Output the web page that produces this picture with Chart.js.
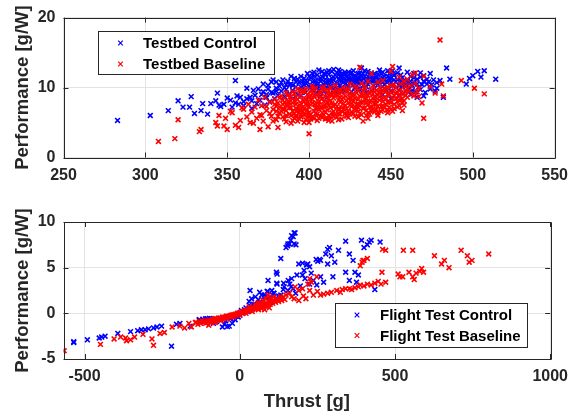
<!DOCTYPE html>
<html>
<head>
<meta charset="utf-8">
<script src="https://cdn.jsdelivr.net/npm/chart.js@4.4.1/dist/chart.umd.min.js"></script>
<style>
    body { margin: 0; background: #fff; }
    .plot { position: relative; width: 576px; }
</style>
</head>
<body>
<div class="plot"><canvas id="testbed_chart" width="576" height="200"></canvas></div>
<div class="plot"><canvas id="flight_chart" width="576" height="217"></canvas></div>
<script>
// ---- data: [thrust, performance] ----
var testbedLabels = ['Testbed Control', 'Testbed Baseline'];
var flightLabels = ['Flight Test Control', 'Flight Test Baseline'];

var testbedXTicks = [250, 300, 350, 400, 450, 500, 550];
var testbedYTicks = [0, 10, 20];
var flightXTicks = [-500, 0, 500, 1000];
var flightYTicks = [-5, 0, 5, 10];

var testbedControl = [
    [283,5.3],[303,6.0],[314,6.7],[320,8.1],[323,7.2],[327,7.2],[328,8.7],[330,6.3],[334,6.7],[335,7.7],
    [338,6.2],[340,7.7],[343,8.1],[344,9.2],[345,7.5],[346,7.3],[348,7.6],[350,8.5],[352,8.2],[353,7.2],
    [355,11.0],[355,7.8],[356,8.8],[358,8.6],[360,8.0],[360,7.4],[362,8.4],[364,8.6],[365,7.0],[367,8.9],
    [368,7.7],[370,8.2],[371,9.0],[372,10.5],[373,7.5],[374,8.6],[375,9.8],[376,8.0],[377,10.8],[378,11.1],
    [378,9.2],[379,8.4],[380,9.9],[381,8.9],[382,10.2],[383,9.5],[384,11.1],[385,8.7],[386,9.7],[387,10.9],
    [388,9.1],[389,10.5],[390,8.4],[390,9.6],[391,11.3],[392,10.1],[393,9.0],[394,10.7],[395,11.6],[395,8.8],
    [396,9.8],[397,10.4],[398,11.0],[398,9.3],[399,12.0],[400,10.2],[400,8.6],[401,11.4],[402,9.7],[402,10.8],
    [403,12.2],[404,9.1],[404,11.0],[405,10.4],[405,11.8],[406,9.6],[406,12.5],[407,10.9],[407,8.8],[408,11.5],
    [408,10.1],[409,9.4],[409,12.0],[410,10.7],[410,11.2],[411,9.9],[411,8.6],[412,11.9],[412,10.4],[413,11.0],
    [413,9.2],[414,12.3],[414,10.8],[415,11.5],[415,10.0],[416,9.5],[416,11.8],[417,10.6],[417,12.1],[418,11.2],
    [418,9.8],[419,10.3],[419,11.6],[420,12.0],[420,10.9],[421,9.6],[421,11.3],[422,10.5],[422,11.9],[423,11.0],
    [423,9.9],[424,12.2],[424,10.2],[425,11.5],[425,10.7],[426,9.4],[426,11.1],[427,12.4],[427,10.4],[428,11.7],
    [428,10.0],[429,11.2],[430,12.0],[430,10.6],[431,9.7],[431,11.4],[432,10.9],[432,12.8],[433,10.3],[434,11.6],
    [434,9.9],[435,11.0],[436,12.3],[436,10.5],[437,11.8],[438,9.6],[438,11.2],[439,10.8],[440,12.0],[440,9.9],
    [441,11.4],[442,10.4],[443,12.5],[443,9.3],[444,11.0],[445,12.2],[445,10.1],[446,11.6],[447,9.7],[448,10.8],
    [449,12.0],[450,11.3],[450,9.5],[451,10.3],[452,11.8],[453,10.0],[454,11.1],[455,12.8],[455,9.6],[456,10.7],
    [457,11.4],[458,9.2],[459,10.4],[460,11.0],[461,9.8],[462,11.6],[463,10.3],[464,12.0],[465,9.4],[466,11.2],
    [467,10.1],[468,9.7],[470,10.9],[471,9.3],[472,10.5],[474,12.0],[474,9.8],[475,10.4],[476,11.1],[477,9.5],
    [478,10.7],[480,11.0],[482,8.6],[484,12.8],[486,11.2],[496,10.5],[498,11.3],[500,11.7],[503,12.3],[505,11.5],
    [507,12.4],[514,11.2],
    [398,10.6],[401,10.0],[403,11.6],[405,9.2],[407,11.3],[409,10.5],[411,12.2],[413,10.2],[415,11.1],[417,9.8],
    [419,12.3],[421,10.8],[423,11.5],[425,12.0],[427,11.0],[429,10.3],[431,12.1],[433,11.3],[435,10.1],[437,11.2],
    [439,11.7],[441,10.6],[443,11.2],[445,11.4],[447,10.9],[449,11.2],[451,11.9],[453,10.8],[390,10.3],[393,11.2],
    [396,10.9],[385,10.0],[388,10.4],[380,10.8],[375,10.3],[372,9.4],[369,9.8],[366,9.6],[362,9.9],[412,11.0],
    [418,11.8],[424,11.3],[430,11.4],[436,11.6],[442,11.9],[448,11.6],[456,11.0],[460,10.3],[464,10.8],[468,11.5],
    [472,11.2],[478,9.9],[462,9.0],[466,8.6],[455,8.9],[450,8.4],[445,9.0],[440,8.7],[470,8.8],
    [395,10.1],[397,11.3],[399,10.8],[400,11.6],[402,12.0],[404,10.5],[406,11.1],[408,12.3],[410,11.8],[412,12.4],
    [414,11.3],[416,10.4],[418,12.5],[420,11.6],[422,12.2],[424,10.9],[426,12.1],[428,11.0],[430,10.9],[432,11.7],
    [434,12.4],[436,11.1],[438,12.1],[440,11.2],[442,11.1],[444,12.0],[446,10.4],[448,12.4],[450,10.7],[452,11.1],
    [454,12.1],[456,11.8],[458,10.8],[460,12.2],[462,10.9],[464,11.4],[466,10.5],[468,12.1],[470,11.7],[473,10.8],
    [392,10.8],[389,11.6],[386,10.4],[383,10.7],[380,9.5],[377,9.3],[374,9.0],[403,10.6],[407,10.2],[411,10.6],
    [415,12.6],[419,11.1],[427,11.6],[433,12.0],[439,11.0],[445,10.8],[451,12.4],[457,10.1],[463,9.6],[469,10.4],
    [415,9.2],[425,9.1],[435,9.3],[445,9.6],[455,10.3],[405,9.9],[420,9.5],[430,9.8],[365,8.1],[357,7.6]
];

var testbedBaseline = [
    [308,2.3],[318,2.7],[320,5.4],[333,3.7],[334,4.0],[343,5.0],[344,4.5],[345,6.0],[348,4.5],[349,5.6],
    [350,4.0],[352,6.6],[353,6.4],[355,4.6],[357,4.3],[358,5.3],[359,7.1],[360,6.9],[362,5.8],[363,7.6],
    [364,5.0],[365,6.5],[366,4.9],[367,7.2],[368,5.6],[369,8.2],[370,6.1],[370,4.0],[371,7.4],[372,5.2],
    [373,8.6],[374,6.7],[375,4.4],[376,7.9],[377,5.9],[378,6.9],[379,8.3],[380,5.4],[380,7.3],[381,4.3],
    [382,6.4],[383,8.8],[384,5.8],[384,7.6],[385,6.9],[386,9.3],[386,5.1],[387,8.0],[388,6.2],[388,7.1],
    [389,4.9],[389,8.7],[390,6.6],[390,7.8],[391,5.6],[391,9.1],[392,7.0],[392,6.0],[393,8.3],[393,5.2],
    [394,7.5],[394,6.4],[395,8.9],[395,5.8],[396,7.2],[396,9.5],[397,6.1],[397,8.0],[398,7.6],[398,5.4],
    [399,6.8],[399,9.0],[400,3.4],[400,7.3],[400,8.5],[400,5.0],[401,6.2],[401,9.6],[402,7.8],[402,5.7],
    [403,8.8],[403,6.6],[404,7.1],[404,9.9],[405,5.3],[405,8.2],[406,6.9],[406,7.6],[407,9.3],[407,5.9],
    [408,8.4],[408,6.4],[409,7.3],[409,10.1],[410,5.5],[410,8.7],[411,6.8],[411,7.9],[412,9.5],[412,6.0],
    [413,8.1],[413,7.1],[414,5.2],[414,9.0],[415,6.6],[415,8.5],[416,7.6],[416,10.3],[417,5.8],[417,8.9],
    [418,7.0],[418,6.3],[419,9.7],[419,7.9],[420,5.5],[420,8.3],[421,6.9],[421,10.0],[422,7.4],[422,8.8],
    [423,6.1],[423,9.4],[424,7.8],[424,5.7],[425,8.6],[425,10.5],[426,6.5],[426,7.3],[427,9.1],[427,8.0],
    [428,5.9],[428,10.2],[429,7.6],[429,6.8],[430,9.6],[430,8.3],[431,6.3],[431,12.9],[432,7.9],[432,10.6],
    [433,5.2],[433,8.9],[434,7.1],[434,9.8],[435,6.7],[435,8.4],[436,10.9],[436,7.5],[437,6.2],[437,9.2],
    [438,8.1],[438,12.0],[439,7.0],[439,10.3],[440,6.5],[440,8.7],[441,9.6],[441,7.7],[442,6.0],[442,10.8],
    [443,8.2],[444,7.3],[444,9.4],[445,6.8],[445,11.0],[446,8.6],[447,7.6],[448,10.1],[448,6.4],[449,9.0],
    [450,7.9],[450,12.3],[451,8.5],[451,13.0],[452,7.0],[452,10.4],[453,9.2],[454,8.0],[455,11.5],[455,7.4],
    [456,9.7],[457,8.4],[457,6.7],[458,10.9],[459,8.9],[460,9.9],[460,11.2],[462,10.3],[463,11.8],[464,8.8],
    [465,12.1],[466,9.4],[467,8.7],[469,7.8],[470,5.6],[470,11.6],[474,10.1],[477,9.2],[480,16.8],[481,10.5],
    [482,8.8],[493,11.0],[501,9.9],[507,9.1],
    [381,7.8],[383,6.6],[385,5.5],[387,7.4],[389,6.0],[391,8.1],[393,6.9],[395,7.7],[397,5.0],[399,7.9],
    [401,8.9],[403,5.6],[405,7.0],[407,8.6],[409,6.1],[411,9.2],[413,5.8],[415,7.3],[417,9.6],[419,6.2],
    [421,8.5],[423,7.0],[425,6.2],[427,8.8],[429,9.9],[431,7.4],[433,9.5],[435,6.0],[437,8.0],[439,9.1],
    [441,6.9],[443,8.7],[445,7.4],[447,9.5],[449,8.0],[451,6.6],[453,8.4],[455,9.0],[457,7.8],[459,9.4],
    [382,7.2],[384,8.2],[386,6.7],[388,7.9],[390,5.3],[392,8.6],[394,5.5],[396,6.5],[398,8.4],[400,6.4],
    [402,9.1],[404,6.3],[406,8.9],[408,7.2],[410,9.6],[412,7.5],[414,6.4],[416,8.9],[418,8.2],[420,7.1],
    [422,6.3],[424,9.8],[426,8.2],[428,7.2],[430,6.6],[432,9.0],[434,8.3],[436,6.4],[438,9.7],[440,7.6],
    [442,8.9],[444,6.6],[446,9.9],[448,7.9],[450,9.3],[452,8.8],[454,7.2],[456,8.3],[458,7.5],[460,8.6],
    [395,6.9],[400,6.0],[405,9.0],[410,6.5],[415,5.9],[420,9.3],[425,7.5],[430,7.6],[435,9.0],[440,8.2],
    [445,8.0],[450,6.9],[388,8.6],[392,5.8],[397,9.5],[403,7.6],[408,5.7],[413,10.0],[418,5.4],[423,8.1],
    [428,6.9],[433,7.0],[438,7.3],[443,10.0],
    [376,6.3],[378,5.2],[379,7.6],[381,5.9],[382,8.5],[384,6.9],[385,7.9],[386,6.0],[387,8.9],[389,7.1],
    [390,9.4],[391,6.3],[392,7.6],[393,9.8],[394,6.8],[395,6.1],[396,8.2],[397,7.0],[398,9.8],[399,5.6],
    [400,7.7],[401,5.5],[402,8.3],[403,9.7],[404,7.5],[405,6.2],[406,8.0],[407,7.1],[408,9.9],[409,8.0],
    [410,7.4],[411,5.6],[412,8.4],[413,9.0],[414,7.8],[415,9.4],[416,6.1],[417,7.3],[418,9.2],[419,8.6],
    [420,6.6],[421,7.7],[422,9.7],[423,5.9],[424,8.4],[425,9.1],[426,7.8],[427,6.3],[428,8.5],[429,9.2],
    [430,7.1],[431,8.8],[432,6.1],[433,8.0],[434,10.2],[435,7.8],[436,8.9],[437,7.2],[438,6.7],[439,8.5],
    [440,9.4],[441,8.1],[442,7.3],[443,9.3],[444,8.4],[445,9.6],[446,7.1],[447,8.4],[448,9.0],[449,7.2],
    [450,10.3],[451,9.5],[452,7.6],[453,10.0],[454,9.3],[455,8.2],[456,10.5],[457,9.1],[458,8.1],[459,10.2],
    [461,9.5],[463,9.1],[465,10.6],[467,9.9],[406,5.6],[412,5.3],[418,6.8],[424,6.6],[430,5.8],[436,5.6],
    [442,6.4],[448,6.8],[398,6.2],[392,6.6],[386,7.5],[380,6.6],[374,7.3],[371,6.0],[394,9.6],[402,10.2]
];

var flightControl = [
    [-535,-3.1],[-535,-3.2],[-491,-2.9],[-453,-2.7],[-445,-2.6],[-434,-2.5],[-393,-2.2],[-352,-2.0],[-329,-1.9],[-317,-1.8],
    [-305,-1.8],[-294,-1.7],[-278,-1.6],[-267,-1.5],[-252,-1.4],[-220,-3.6],[-204,-1.2],[-193,-1.1],[-160,-1.4],[-131,-0.7],
    [-119,-0.65],[-110,-0.6],[-98,-0.55],[-56,-1.5],[-40,-1.45],[-34,-1.4],[-24,-1.1],
    [-130,-0.7],[-118,-0.9],[-105,-0.6],[-92,-0.6],[-85,-1.1],[-75,-0.9],[-65,-0.6],[-50,-1.2],[-45,-0.8],[-30,-0.6],
    [-20,-0.5],[-15,-0.7],[-10,-0.3],[-5,-0.4],[0,-0.2],[5,0.3],[10,0.0],[15,0.4],[20,0.6],[25,0.2],
    [30,1.3],[35,0.8],[40,0.5],[45,1.0],[50,1.8],[55,0.9],[60,1.5],[65,1.2],[70,2.0],[75,1.0],
    [80,1.8],[85,0.8],[90,2.4],[95,1.5],[100,1.2],[105,2.0],[110,2.2],[115,1.6],[33,2.5],[38,1.6],
    [64,2.3],[79,2.0],[97,1.8],[103,2.5],[120,3.2],[143,2.9],[155,2.5],[161,3.2],[167,3.8],[172,2.7],
    [184,4.2],[202,4.2],[91,3.6],[118,4.5],[120,4.3],[132,6.0],[149,7.2],[155,7.6],[160,7.6],[164,8.0],
    [167,8.5],[172,8.4],[175,8.8],[178,8.8],[175,7.6],[181,7.5],[154,7.4],[119,3.3],[141,3.3],[156,3.6],
    [132,2.0],[88,2.4],[109,2.2],[190,5.4],[207,4.7],[219,5.4],[225,5.1],[215,5.3],[202,5.5],[246,5.9],
    [251,5.7],[257,5.9],[260,5.8],[237,3.6],[248,3.1],[260,4.0],[225,3.2],[283,5.4],[283,7.0],[289,7.2],
    [277,6.5],[295,6.3],[306,5.6],[318,6.9],[341,7.9],[353,6.5],[365,5.8],[371,4.5],[341,4.5],[353,3.6],
    [376,3.4],[382,4.2],[392,8.0],[400,7.2],[411,7.5],[417,7.8],[423,8.0],[452,7.8],[435,2.6],[300,4.0],
    [270,3.4],[195,3.0],[210,3.8],[180,2.2],[230,4.4],[165,2.9],[140,2.6],[125,1.9]
];

var flightBaseline = [
    [-566,-4.1],[-449,-3.4],[-405,-2.8],[-384,-2.6],[-368,-2.7],[-365,-3.0],[-352,-2.9],[-339,-2.6],[-312,-2.3],[-283,-2.8],
    [-278,-3.5],[-257,-2.2],[-243,-2.1],[-218,-1.5],[-193,-1.4],[-178,-1.6],[-164,-1.1],[-156,-1.5],[-143,-1.0],[-100,-1.3],
    [-79,-1.0],
    [-140,-1.0],[-135,-1.2],[-130,-0.9],[-126,-1.1],[-122,-0.8],[-118,-1.0],[-114,-0.9],[-110,-1.1],[-106,-0.8],[-102,-0.9],
    [-98,-0.7],[-95,-1.0],[-92,-0.8],[-88,-0.7],[-85,-0.9],[-82,-0.6],[-78,-0.8],[-75,-0.6],[-72,-0.7],[-68,-0.5],
    [-65,-0.7],[-62,-0.5],[-58,-0.6],[-55,-0.4],[-52,-0.5],[-48,-0.4],[-45,-0.5],[-42,-0.3],[-38,-0.4],[-35,-0.3],
    [-32,-0.35],[-28,-0.2],[-25,-0.3],[-22,-0.15],[-18,-0.2],[-15,-0.1],[-12,-0.15],[-8,0],[-5,-0.05],[-2,0.05],
    [2,0.1],[5,0.05],[8,0.15],[11,0.1],[14,0.25],[17,0.2],[20,0.3],[23,0.25],[26,0.4],[29,0.3],
    [32,0.45],[35,0.4],[38,0.55],[41,0.45],[44,0.6],[47,0.5],[50,0.7],[53,0.55],[56,0.75],[59,0.65],
    [62,0.8],[65,0.7],[68,0.9],[71,0.75],[74,0.95],[77,0.8],[80,1.0],[83,0.85],[86,1.1],[90,0.9],
    [94,1.2],[98,1.0],[102,1.3],[106,1.1],[110,1.4],[115,1.2],[120,1.5],[125,1.3],[130,1.6],[135,1.4],
    [140,1.8],[145,1.5],[-60,-0.8],[-40,-0.6],[-20,-0.4],[0,-0.2],[20,0.0],[40,0.2],[60,0.4],[70,0.5],
    [30,0.7],[50,1.0],[60,1.2],[75,1.4],[85,1.6],[95,0.6],[80,0.4],
    [97,1.6],[108,1.8],[120,1.6],[132,1.8],[149,2.0],[167,1.8],[190,1.4],[213,1.6],[225,2.5],[237,2.0],
    [260,2.0],[283,2.2],[295,2.3],[312,2.5],[324,2.3],[341,2.7],[353,2.7],[371,2.8],[382,2.9],[388,3.1],
    [411,3.2],[423,3.1],[435,3.3],[446,3.5],[470,3.4],[91,2.0],[73,1.1],[178,2.9],[190,2.5],[202,2.7],
    [219,3.2],[225,3.8],[231,3.4],[248,4.0],[160,2.2],[175,1.6],[205,1.9],[250,2.4],[270,2.1],[330,2.6],
    [360,2.6],[400,3.0],[455,3.2],
    [394,5.6],[397,5.8],[400,5.8],[411,6.0],[388,5.2],[458,4.5],[460,7.0],[470,6.9],
    [510,4.3],[516,4.0],[525,4.0],[545,4.5],[557,4.0],[562,3.7],[568,4.4],[580,4.6],[586,4.9],[592,4.5],
    [527,6.9],[557,6.9],[627,6.3],[650,5.4],[659,5.8],[674,5.0],[713,6.9],[733,6.3],[739,5.6],[748,5.8],
    [802,6.5]
];

// ---- drawing ----
const INK = '#262626';
const TICK_FONT = { family: '"Liberation Sans", Arial, sans-serif', size: 16, weight: 'bold' };
const TITLE_FONT = { family: '"Liberation Sans", Arial, sans-serif', size: 18.5, weight: 'bold' };

function toPoints(pairs) {
    return pairs.map(function (p) { return { x: p[0], y: p[1] }; });
}

function fixedTicks(values) {
    return function (scale) {
        scale.ticks = values.map(function (v) { return { value: v }; });
    };
}

// matlab style frame with inward ticks on all four sides
const boxFrame = {
    id: 'boxFrame',
    afterDraw: function (chart) {
        var ctx = chart.ctx, a = chart.chartArea;
        var xs = chart.scales.x, ys = chart.scales.y;
        var len = 5;
        ctx.save();
        ctx.strokeStyle = INK;
        ctx.lineWidth = 1;
        ctx.beginPath();
        ctx.rect(Math.round(a.left) + 0.5, Math.round(a.top) + 0.5,
            Math.round(a.right - a.left), Math.round(a.bottom - a.top));
        xs.ticks.forEach(function (t) {
            var px = Math.round(xs.getPixelForValue(t.value)) + 0.5;
            ctx.moveTo(px, a.bottom); ctx.lineTo(px, a.bottom - len);
            ctx.moveTo(px, a.top); ctx.lineTo(px, a.top + len);
        });
        ys.ticks.forEach(function (t) {
            var py = Math.round(ys.getPixelForValue(t.value)) + 0.5;
            ctx.moveTo(a.left, py); ctx.lineTo(a.left + len, py);
            ctx.moveTo(a.right, py); ctx.lineTo(a.right - len, py);
        });
        ctx.stroke();
        ctx.restore();
    }
};

// legend box placed inside the axes
const boxLegend = {
    id: 'boxLegend',
    afterDraw: function (chart, args, opts) {
        if (!opts.box) return;
        var ctx = chart.ctx, b = opts.box;
        ctx.save();
        ctx.fillStyle = '#fff';
        ctx.fillRect(b.x, b.y, b.w, b.h);
        ctx.strokeStyle = INK;
        ctx.lineWidth = 1;
        ctx.strokeRect(b.x + 0.5, b.y + 0.5, b.w, b.h);
        ctx.font = 'bold 15px "Liberation Sans", Arial, sans-serif';
        ctx.textBaseline = 'middle';
        chart.data.datasets.forEach(function (ds, i) {
            var y = opts.rows[i];
            var d = 2.3;
            ctx.strokeStyle = ds.borderColor;
            ctx.lineWidth = 1.2;
            ctx.beginPath();
            ctx.moveTo(opts.markX - d, y - d); ctx.lineTo(opts.markX + d, y + d);
            ctx.moveTo(opts.markX - d, y + d); ctx.lineTo(opts.markX + d, y - d);
            ctx.stroke();
            ctx.fillStyle = '#000';
            ctx.fillText(ds.label, opts.textX, y + 1);
        });
        ctx.restore();
    }
};

function scatterSet(label, pairs, color, order) {
    return {
        label: label,
        data: toPoints(pairs),
        borderColor: color,
        backgroundColor: color,
        pointStyle: 'crossRot',
        pointRadius: 3.4,
        borderWidth: 1.6,
        order: order
    };
}

function axis(min, max, ticks, extra) {
    var s = {
        type: 'linear',
        min: min,
        max: max,
        afterBuildTicks: fixedTicks(ticks),
        grid: { color: '#e3e3e3', drawTicks: false },
        border: { display: false },
        ticks: {
            color: INK, font: TICK_FONT, padding: 8,
            callback: function (v) { return String(v); }
        },
        title: { display: false }
    };
    return Object.assign(s, extra);
}

const PLOTS = {
    renderTestbed: function () {
        var ctx = document.getElementById('testbed_chart').getContext('2d');
        window.testbedChart = new Chart(ctx, {
            type: 'scatter',
            data: {
                datasets: [
                    scatterSet(testbedLabels[0], testbedControl, '#0000ff', 2),
                    scatterSet(testbedLabels[1], testbedBaseline, '#ff0000', 1)
                ]
            },
            options: {
                responsive: false,
                animation: false,
                layout: { padding: { left: 0, right: 18.5, top: 17.5, bottom: 0 } },
                scales: {
                    x: axis(250, 550, testbedXTicks, {
                        afterFit: function (s) { s.height = 42.5; }
                    }),
                    y: axis(0, 20, testbedYTicks, {
                        afterFit: function (s) { s.width = 63.5; },
                        title: {
                            display: true, text: 'Performance [g/W]', color: INK,
                            font: TITLE_FONT, padding: { top: 12, bottom: 0 }
                        }
                    })
                },
                plugins: {
                    legend: { display: false },
                    tooltip: { enabled: false },
                    boxLegend: {
                        box: { x: 98, y: 31, w: 176, h: 43 },
                        markX: 120.5, textX: 143, rows: [43, 64]
                    }
                }
            },
            plugins: [boxFrame, boxLegend]
        });
    },
    renderFlight: function () {
        var ctx = document.getElementById('flight_chart').getContext('2d');
        window.flightChart = new Chart(ctx, {
            type: 'scatter',
            data: {
                datasets: [
                    scatterSet(flightLabels[0], flightControl, '#0000ff', 2),
                    scatterSet(flightLabels[1], flightBaseline, '#ff0000', 1)
                ]
            },
            options: {
                responsive: false,
                animation: false,
                layout: { padding: { left: 0, right: 18.5, top: 22, bottom: 0 } },
                scales: {
                    x: axis(-568, 1000, flightXTicks, {
                        afterFit: function (s) { s.height = 58; },
                        title: {
                            display: true, text: 'Thrust [g]', color: INK,
                            font: TITLE_FONT, padding: { top: 0, bottom: 4 }
                        }
                    }),
                    y: axis(-5, 10, flightYTicks, {
                        afterFit: function (s) { s.width = 63.5; },
                        title: {
                            display: true, text: 'Performance [g/W]', color: INK,
                            font: TITLE_FONT, padding: { top: 12, bottom: 0 }
                        }
                    })
                },
                plugins: {
                    legend: { display: false },
                    tooltip: { enabled: false },
                    boxLegend: {
                        box: { x: 335, y: 103, w: 192, h: 44 },
                        markX: 357, textX: 380, rows: [115, 135.5]
                    }
                }
            },
            plugins: [boxFrame, boxLegend]
        });
    }
};

PLOTS.renderTestbed();
PLOTS.renderFlight();
</script>
</body>
</html>
